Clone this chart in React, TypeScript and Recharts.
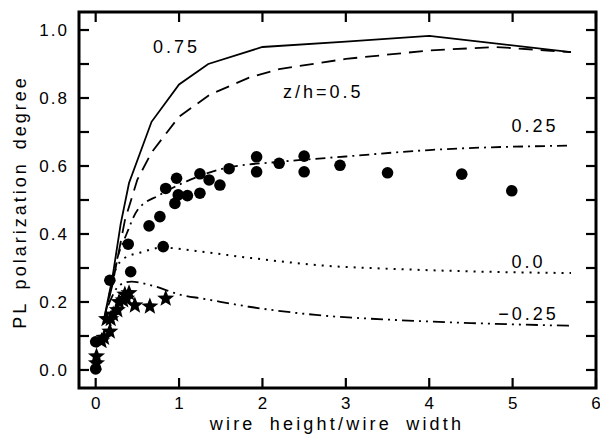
import React from "react";
import { ComposedChart, Line, Scatter, XAxis, YAxis, ReferenceDot } from "recharts";

// tick values
const xTicks = [0, 1, 2, 3, 4, 5, 6];
const yTicks = [0, 0.1, 0.2, 0.3, 0.4, 0.5, 0.6, 0.7, 0.8, 0.9, 1.0];
const yTickLabels = ["0.0", "", "0.2", "", "0.4", "", "0.6", "", "0.8", "", "1.0"];

// calculated curves, [wire height/wire width, polarization]
const curve075 = [
  [0.1, 0.15], [0.2, 0.27], [0.3, 0.43], [0.4, 0.55], [0.67, 0.73], [1.0, 0.84],
  [1.35, 0.9], [2.0, 0.95], [3.0, 0.966], [4.0, 0.983], [5.7, 0.935],
];
const curve05 = [
  [0.1, 0.15], [0.2, 0.25], [0.35, 0.44], [0.5, 0.56], [0.67, 0.64], [1.0, 0.745],
  [1.37, 0.81], [1.84, 0.86], [2.2, 0.885], [3.0, 0.915], [4.0, 0.94], [4.8, 0.95], [5.7, 0.935],
];
const curve025 = [
  [0.15, 0.2], [0.25, 0.32], [0.37, 0.4], [0.5, 0.47], [0.77, 0.515], [1.09, 0.555],
  [1.56, 0.594], [2.24, 0.613], [3.0, 0.628], [4.0, 0.647], [5.7, 0.66],
];
const curve00 = [
  [0.15, 0.2], [0.23, 0.29], [0.35, 0.33], [0.53, 0.345], [0.8, 0.36], [1.2, 0.35],
  [1.84, 0.33], [2.8, 0.306], [3.6, 0.297], [4.5, 0.29], [5.7, 0.285],
];
const curveM025 = [
  [0.15, 0.19], [0.29, 0.25], [0.43, 0.26], [0.65, 0.25], [1.04, 0.22], [1.28, 0.21],
  [1.84, 0.186], [2.64, 0.162], [3.6, 0.147], [4.5, 0.138], [5.7, 0.13],
];

// measured points
const circles = [
  [0, 0.003], [0, 0.083], [0.17, 0.264], [0.39, 0.37], [0.42, 0.289], [0.64, 0.424],
  [0.77, 0.451], [0.81, 0.363], [0.84, 0.534], [0.95, 0.49], [0.97, 0.564], [0.99, 0.515],
  [1.1, 0.513], [1.25, 0.52], [1.25, 0.577], [1.36, 0.559], [1.49, 0.544], [1.6, 0.592],
  [1.93, 0.627], [1.93, 0.583], [2.2, 0.608], [2.5, 0.629], [2.5, 0.583], [2.93, 0.602],
  [3.5, 0.58], [4.39, 0.576], [4.99, 0.527],
];
const stars = [
  [0.01, 0.04], [0.01, 0.02], [0.07, 0.085], [0.1, 0.095], [0.17, 0.113], [0.13, 0.15],
  [0.18, 0.15], [0.21, 0.163], [0.26, 0.176], [0.28, 0.2], [0.33, 0.205], [0.35, 0.222],
  [0.37, 0.21], [0.4, 0.226], [0.47, 0.19], [0.65, 0.187], [0.84, 0.21],
];

const X_DOMAIN = [-0.2, 6];
const Y_DOMAIN = [-0.053, 1.053];
// plot box edges in px
const PLOT_LEFT = 79;
const PLOT_TOP = 12;
const PLOT_RIGHT = 596;
const PLOT_BOTTOM = 388;

const toXY = (arr: number[][]) => arr.map(([x, y]) => ({ x, y }));

// same linear mapping the chart uses, for the frame overlay
const sx = (v: number) => PLOT_LEFT + ((v - X_DOMAIN[0]) / (X_DOMAIN[1] - X_DOMAIN[0])) * (PLOT_RIGHT - PLOT_LEFT);
const sy = (v: number) => PLOT_BOTTOM - ((v - Y_DOMAIN[0]) / (Y_DOMAIN[1] - Y_DOMAIN[0])) * (PLOT_BOTTOM - PLOT_TOP);

const LeftTick = (props: any) => {
  const { y, index } = props;
  const label = yTickLabels[index];
  if (!label) return <g />;
  return (
    <text x={PLOT_LEFT - 10} y={y + 6} textAnchor="end" fontSize={17} letterSpacing={2} fill="#000">
      {label}
    </text>
  );
};

const BottomTick = (props: any) => {
  const { x, payload } = props;
  return (
    <text x={x} y={PLOT_BOTTOM + 21} textAnchor="middle" fontSize={17} fill="#000">
      {payload.value}
    </text>
  );
};

const Dot = (p: any) => <circle cx={p.cx} cy={p.cy} r={5.8} fill="#000" />;

const Star = (p: any) => {
  const pts: string[] = [];
  for (let i = 0; i < 10; i++) {
    const r = i % 2 === 0 ? 9 : 3.8;
    const a = -Math.PI / 2 + (i * Math.PI) / 5;
    pts.push(`${p.cx + r * Math.cos(a)},${p.cy + r * Math.sin(a)}`);
  }
  return <polygon points={pts.join(" ")} fill="#000" />;
};

const annot = (value: string) => ({
  value,
  position: "center" as const,
  fontSize: 18,
  fill: "#000",
  letterSpacing: 3,
});

const lineProps = {
  dataKey: "y",
  stroke: "#000",
  strokeWidth: 1.8,
  dot: false,
  activeDot: false,
  isAnimationActive: false,
};

// box frame with inward ticks on all four sides
function Frame() {
  return (
    <svg
      width={600}
      height={435}
      viewBox="0 0 600 435"
      style={{ position: "absolute", left: 0, top: 0, zIndex: 10, pointerEvents: "none", overflow: "visible" }}
    >
      <rect
        x={PLOT_LEFT}
        y={PLOT_TOP}
        width={PLOT_RIGHT - PLOT_LEFT}
        height={PLOT_BOTTOM - PLOT_TOP}
        fill="none"
        stroke="#000"
        strokeWidth={3}
      />
      {xTicks.map((t) => (
        <g key={`x${t}`}>
          <line x1={sx(t)} y1={PLOT_BOTTOM} x2={sx(t)} y2={PLOT_BOTTOM - 10} stroke="#000" strokeWidth={2.2} />
          <line x1={sx(t)} y1={PLOT_TOP} x2={sx(t)} y2={PLOT_TOP + 10} stroke="#000" strokeWidth={2.2} />
        </g>
      ))}
      {yTicks.map((t) => (
        <g key={`y${t}`}>
          <line x1={PLOT_LEFT} y1={sy(t)} x2={PLOT_LEFT + 10} y2={sy(t)} stroke="#000" strokeWidth={2.2} />
          <line x1={PLOT_RIGHT} y1={sy(t)} x2={PLOT_RIGHT - 10} y2={sy(t)} stroke="#000" strokeWidth={2.2} />
        </g>
      ))}
      <text x={337} y={430} textAnchor="middle" fontSize={18} letterSpacing={3.2} wordSpacing={6} fill="#000">
        wire height/wire width
      </text>
      <text
        x={26}
        y={202}
        transform="rotate(-90 26 202)"
        textAnchor="middle"
        fontSize={18}
        letterSpacing={3}
        wordSpacing={4}
        fill="#000"
      >
        PL polarization degree
      </text>
    </svg>
  );
}

export default function App() {
  return (
    <div style={{ position: "absolute", left: 0, top: 0, width: 600, height: 435, background: "#fff", fontFamily: "'Liberation Sans', Arial, sans-serif" }}>
      <ComposedChart width={600} height={435} margin={{ top: PLOT_TOP, right: 600 - PLOT_RIGHT, bottom: 0, left: 0 }}>
        <XAxis
          dataKey="x"
          type="number"
          domain={X_DOMAIN}
          ticks={xTicks}
          interval={0}
          allowDataOverflow
          height={435 - PLOT_BOTTOM}
          tickSize={0}
          tickMargin={0}
          tickLine={false}
          tick={<BottomTick />}
          axisLine={false}
        />
        <YAxis
          dataKey="y"
          type="number"
          domain={Y_DOMAIN}
          ticks={yTicks}
          interval={0}
          allowDataOverflow
          width={PLOT_LEFT}
          tickSize={0}
          tickMargin={0}
          tickLine={false}
          tick={<LeftTick />}
          axisLine={false}
        />
        <Line {...lineProps} data={toXY(curve075)} type="linear" />
        <Line {...lineProps} data={toXY(curve05)} type="linear" strokeDasharray="14 8" />
        <Line {...lineProps} data={toXY(curve025)} type="monotone" strokeDasharray="10 5 2 5" />
        <Line {...lineProps} data={toXY(curve00)} type="monotone" strokeDasharray="2 6" strokeWidth={2} />
        <Line {...lineProps} data={toXY(curveM025)} type="monotone" strokeDasharray="12 5 2 5 2 5" />
        <Scatter data={toXY(circles)} dataKey="y" shape={Dot} isAnimationActive={false} />
        <Scatter data={toXY(stars)} dataKey="y" shape={Star} isAnimationActive={false} />
        <ReferenceDot x={0.97} y={0.95} r={1} fill="none" stroke="none" label={annot("0.75")} />
        <ReferenceDot x={2.73} y={0.818} r={1} fill="none" stroke="none" label={annot("z/h=0.5")} />
        <ReferenceDot x={5.27} y={0.718} r={1} fill="none" stroke="none" label={annot("0.25")} />
        <ReferenceDot x={5.19} y={0.318} r={1} fill="none" stroke="none" label={annot("0.0")} />
        <ReferenceDot x={5.19} y={0.165} r={1} fill="none" stroke="none" label={annot("\u22120.25")} />
      </ComposedChart>
      <Frame />
    </div>
  );
}
